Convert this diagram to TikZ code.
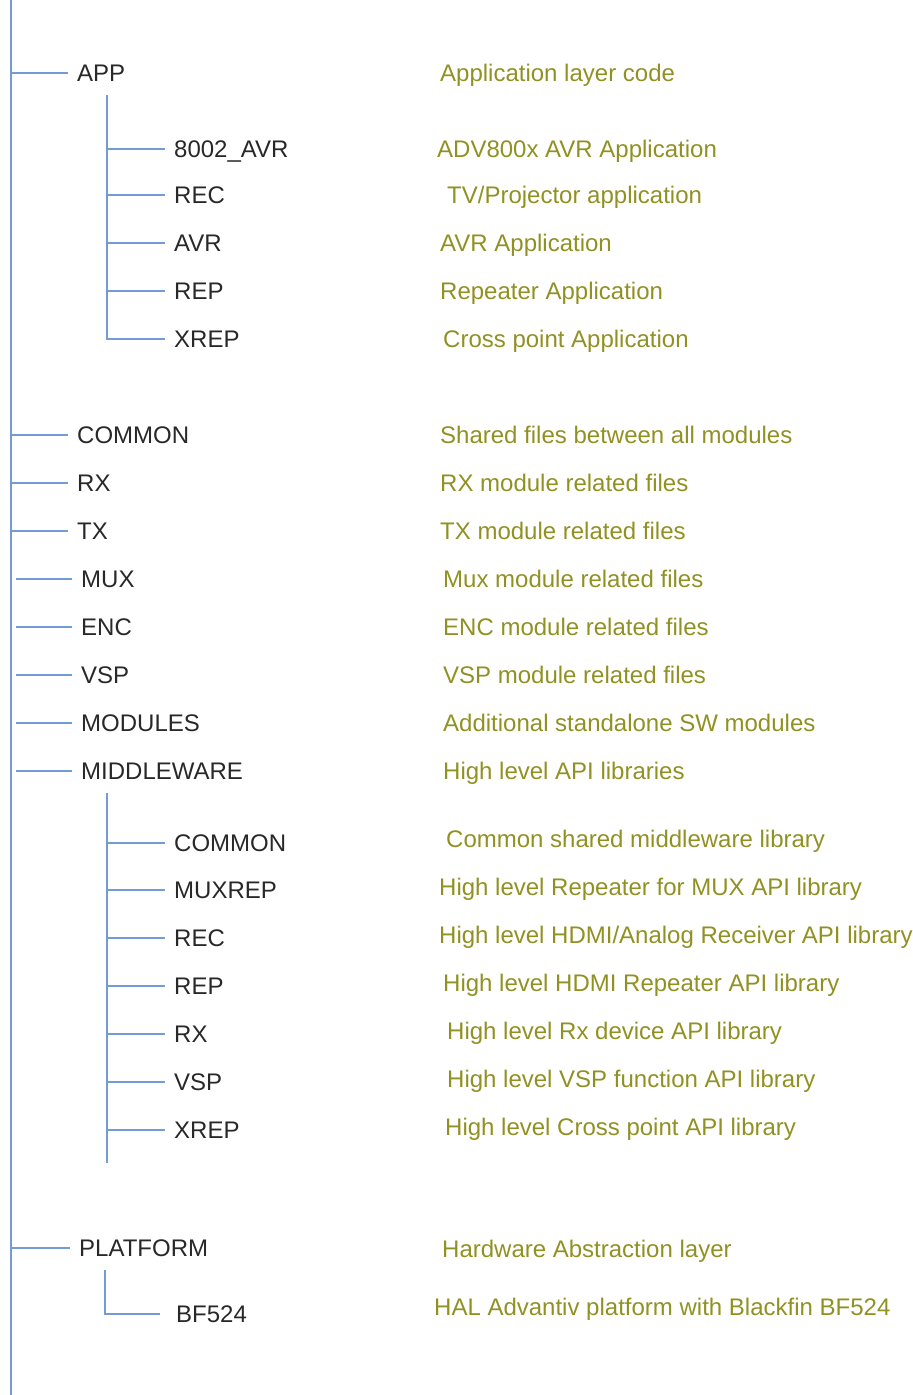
\documentclass[tikz,border=0pt]{standalone}
\usepackage{fontspec}
\setmainfont{Liberation Sans}
\definecolor{treeblue}{RGB}{115,155,212}
\definecolor{labgray}{RGB}{40,40,40}
\definecolor{descol}{RGB}{145,145,35}
\begin{document}
\begin{tikzpicture}[x=1pt,y=-1pt,
  tline/.style={draw=treeblue,line width=2.8pt},
  dir/.style={anchor=west,inner xsep=9pt,inner ysep=0pt,text height=17pt,text depth=0pt,
    font=\fontsize{24}{28}\selectfont,text=labgray},
  desc/.style={anchor=west,inner sep=0pt,text height=17pt,text depth=0pt,
    font=\fontsize{24}{28}\selectfont,text=descol}]
\useasboundingbox (0,0) rectangle (913,1395);
% trunk
\coordinate (top) at (11,0);
\coordinate (bot) at (11,1395);
\draw[tline] (top) -- (bot);
% top level entries
\foreach \n/\x/\y/\t in {app/68/73/APP, common/68/435/COMMON, rx/68/483/RX, tx/68/531/TX,
  platform/70/1248/PLATFORM}{
  \coordinate (t-\n) at (11,\y);
  \node[dir] (\n) at (\x,\y) {\t};
  \draw[tline] (t-\n) -- (\n.west);
}
\foreach \n/\y/\t in {mux/579/MUX, enc/627/ENC, vsp/675/VSP, modules/723/MODULES, middleware/771/MIDDLEWARE}{
  \coordinate (t-\n) at (16,\y);
  \node[dir] (\n) at (72,\y) {\t};
  \draw[tline] (t-\n) -- (\n.west);
}
% APP children
\coordinate (appv) at (107,95);
\foreach \n/\y/\t in {a8002/149/8002\_AVR, arec/195/REC, aavr/243/AVR, arep/291/REP}{
  \coordinate (v-\n) at (107,\y);
  \node[dir] (\n) at (165,\y) {\t};
  \draw[tline] (v-\n) -- (\n.west);
}
\node[dir] (axrep) at (165,339) {XREP};
\draw[tline] (appv) |- (axrep.west);
% MIDDLEWARE children
\coordinate (mwv) at (107,793);
\coordinate (mwe) at (107,1163);
\draw[tline] (mwv) -- (mwe);
\foreach \n/\y/\t in {mcommon/843/COMMON, mmuxrep/890/MUXREP, mrec/938/REC, mrep/986/REP,
  mrx/1034/RX, mvsp/1082/VSP, mxrep/1130/XREP}{
  \coordinate (v-\n) at (107,\y);
  \node[dir] (\n) at (165,\y) {\t};
  \draw[tline] (v-\n) -- (\n.west);
}
% PLATFORM child
\coordinate (plv) at (105,1270);
\node[dir,inner xsep=16pt] (bf) at (160,1314) {BF524};
\draw[tline] (plv) |- (bf.west);
% descriptions
\node[desc] (d-app) at (440,73) {Application layer code};
\node[desc] (d-a8002) at (437,149) {ADV800x AVR Application};
\node[desc] (d-arec) at (447,195) {TV/Projector application};
\node[desc] (d-aavr) at (440,243) {AVR Application};
\node[desc] (d-arep) at (440,291) {Repeater Application};
\node[desc] (d-axrep) at (443,339) {Cross point Application};
\node[desc] (d-common) at (440,435) {Shared files between all modules};
\node[desc] (d-rx) at (440,483) {RX module related files};
\node[desc] (d-tx) at (440,531) {TX module related files};
\node[desc] (d-mux) at (443,579) {Mux module related files};
\node[desc] (d-enc) at (443,627) {ENC module related files};
\node[desc] (d-vsp) at (443,675) {VSP module related files};
\node[desc] (d-modules) at (443,723) {Additional standalone SW modules};
\node[desc] (d-middleware) at (443,771) {High level API libraries};
\node[desc] (d-mcommon) at (446,839) {Common shared middleware library};
\node[desc] (d-mmuxrep) at (439,887) {High level Repeater for MUX API library};
\node[desc] (d-mrec) at (439,935) {High level HDMI/Analog Receiver API library};
\node[desc] (d-mrep) at (443,983) {High level HDMI Repeater API library};
\node[desc] (d-mrx) at (447,1031) {High level Rx device API library};
\node[desc] (d-mvsp) at (447,1079) {High level VSP function API library};
\node[desc] (d-mxrep) at (445,1127) {High level Cross point API library};
\node[desc] (d-platform) at (442,1249) {Hardware Abstraction layer};
\node[desc] (d-bf) at (434,1307) {HAL Advantiv platform with Blackfin BF524};
\end{tikzpicture}
\end{document}
